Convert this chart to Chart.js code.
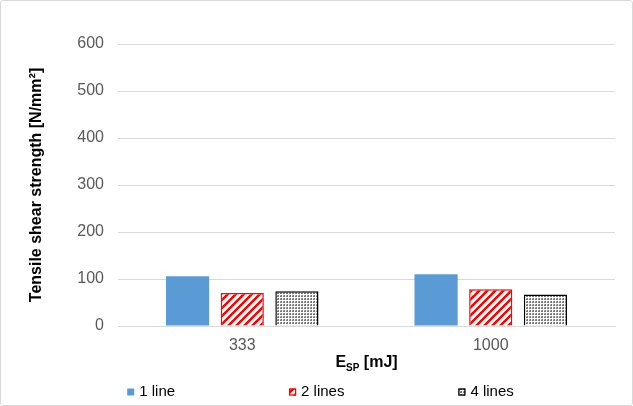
<!DOCTYPE html>
<html>
<head>
<meta charset="utf-8">
<script src="https://cdn.jsdelivr.net/npm/chart.js@4"></script>
<style>
  html, body { margin: 0; padding: 0; background: #fff; }
  #wrap { width: 633px; height: 406px; box-sizing: border-box; border: 1px solid #d9d9d9; border-radius: 3px; }
</style>
</head>
<body>
<div id="wrap"><canvas id="myChart" width="631" height="404"></canvas></div>
<script>
var categories = ['333', '1000'];
var oneLine = [106, 110];
var twoLines = [70, 78];
var fourLines = [74, 67];
var yTicks = [0, 100, 200, 300, 400, 500, 600];

var FONT = '"Liberation Sans", Arial, sans-serif';

// red diagonal stripes
function stripePattern() {
    var c = document.createElement('canvas');
    c.width = 8; c.height = 8;
    var g = c.getContext('2d');
    g.fillStyle = '#fff';
    g.fillRect(0, 0, 8, 8);
    g.strokeStyle = '#ff0000';
    g.lineWidth = 2.6;
    g.beginPath();
    g.moveTo(-2, 10); g.lineTo(10, -2);
    g.moveTo(-6, 6); g.lineTo(6, -6);
    g.moveTo(2, 14); g.lineTo(14, 2);
    g.stroke();
    return g.createPattern(c, 'repeat');
}

// small dots
function dotPattern() {
    var c = document.createElement('canvas');
    c.width = 3; c.height = 3;
    var g = c.getContext('2d');
    g.fillStyle = '#fff';
    g.fillRect(0, 0, 3, 3);
    g.fillStyle = '#777';
    g.fillRect(0, 0, 2, 2);
    g.fillStyle = '#aaa';
    g.fillRect(0, 0, 1, 1);
    return g.createPattern(c, 'repeat');
}

// x title with subscript + legend spread out like the original
var extras = {
    id: 'extras',
    afterDraw: function (chart) {
        var ctx = chart.ctx;
        var x = chart.scales.x;
        var cx = (x.left + x.right) / 2;
        var y = 362;
        ctx.save();
        ctx.fillStyle = '#000';
        ctx.textBaseline = 'middle';
        ctx.font = 'bold 16px ' + FONT;
        var w1 = ctx.measureText('E').width;
        var w3 = ctx.measureText(' [mJ]').width;
        ctx.font = 'bold 10px ' + FONT;
        var w2 = ctx.measureText('SP').width;
        var start = cx - (w1 + w2 + w3) / 2;
        ctx.font = 'bold 16px ' + FONT;
        ctx.fillText('E', start, y);
        ctx.fillText(' [mJ]', start + w1 + w2, y);
        ctx.font = 'bold 10px ' + FONT;
        ctx.fillText('SP', start + w1, y + 5);

        // legend
        var gap = 114, box = 7, sp = 5;
        var ly = 391;
        ctx.font = '15px ' + FONT;
        var sets = chart.data.datasets;
        var widths = sets.map(function (d) { return box + sp + ctx.measureText(d.label).width; });
        var total = widths.reduce(function (a, b) { return a + b; }, 0) + gap * (sets.length - 1);
        var lx = chart.width / 2 + 4 - total / 2;
        sets.forEach(function (d, i) {
            ctx.fillStyle = d.backgroundColor;
            ctx.fillRect(lx, ly - box / 2, box, box);
            if (d.borderWidth) {
                ctx.strokeStyle = d.borderColor;
                ctx.lineWidth = 1.3;
                ctx.strokeRect(lx + 0.5, ly - box / 2 + 0.5, box - 1, box - 1);
            }
            ctx.fillStyle = '#000';
            ctx.fillText(d.label, lx + box + sp, ly);
            lx += widths[i] + gap;
        });
        ctx.restore();
    }
};

var ctx = document.getElementById('myChart').getContext('2d');
var chart = new Chart(ctx, {
    type: 'bar',
    data: {
        labels: categories,
        datasets: [{
            label: '1 line',
            backgroundColor: '#5b9bd5',
            borderColor: '#5b9bd5',
            borderWidth: 0,
            data: oneLine
        },
        {
            label: '2 lines',
            backgroundColor: stripePattern(),
            borderColor: '#ff0000',
            borderWidth: 1.5,
            data: twoLines
        },
        {
            label: '4 lines',
            backgroundColor: dotPattern(),
            borderColor: '#000',
            borderWidth: 1.5,
            data: fourLines
        }]
    },
    options: {
        responsive: false,
        animation: false,
        categoryPercentage: 0.66,
        barPercentage: 0.79,
        layout: { padding: { left: 0, right: 17, top: 43, bottom: 0 } },
        plugins: {
            legend: { display: false },
            tooltip: { enabled: false }
        },
        scales: {
            x: {
                afterFit: function (axis) { axis.height = 79; },
                grid: { display: false, drawTicks: false },
                border: { color: '#d9d9d9', width: 1 },
                ticks: {
                    color: '#595959',
                    padding: 10,
                    font: { family: FONT, size: 16 }
                }
            },
            y: {
                min: 0,
                max: 600,
                afterFit: function (axis) { axis.width = 117; },
                afterBuildTicks: function (axis) {
                    axis.ticks = yTicks.map(function (v) { return { value: v }; });
                },
                grid: { color: '#d9d9d9', drawTicks: false },
                border: { display: false },
                ticks: {
                    color: '#595959',
                    padding: 14,
                    font: { family: FONT, size: 16 }
                },
                title: {
                    display: true,
                    text: 'Tensile shear strength [N/mm²]',
                    color: '#000',
                    padding: { top: 26, bottom: 0 },
                    font: { family: FONT, size: 16, weight: 'bold' }
                }
            }
        }
    },
    plugins: [extras]
});
</script>
</body>
</html>
